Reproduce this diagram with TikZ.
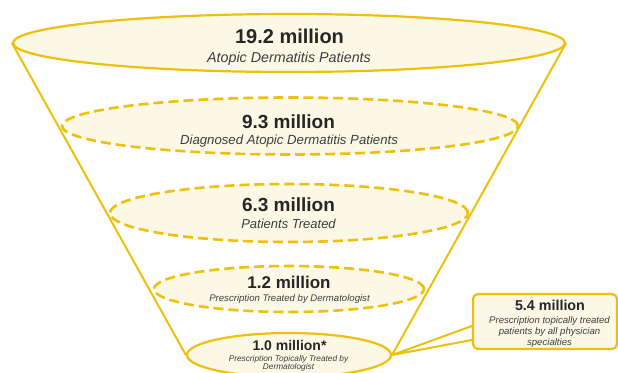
\documentclass[tikz,border=0pt]{standalone}
\usepackage{fontspec}
\setmainfont{Liberation Sans}
\usetikzlibrary{shapes.geometric,calc}
\definecolor{gold}{RGB}{238,192,10}
\definecolor{cream}{RGB}{251,248,230}
\definecolor{ink}{RGB}{38,38,38}
\definecolor{subink}{RGB}{62,62,62}
\tikzset{
  lvl/.style={ellipse, draw=gold, fill=cream, inner sep=0pt},
  solidlvl/.style={lvl, line width=2.2pt},
  dashlvl/.style={lvl, line width=2.6pt, dash pattern=on 10pt off 5pt},
  num/.style={anchor=base, text=ink, inner sep=0pt, font=\bfseries\fontsize{#1}{#1}\selectfont},
  desc/.style={anchor=base, text=subink, inner sep=0pt, font=\itshape\fontsize{#1}{#1}\selectfont},
  cone/.style={draw=gold, line width=2pt},
  callout/.style={draw=gold, fill=cream, line width=2.2pt, rounded corners=5pt, inner sep=0pt},
}
\begin{document}
\begin{tikzpicture}[x=1pt,y=-1pt]
\useasboundingbox (0,0) rectangle (618,372);
\fill[white] (0,0) rectangle (618,372);
\clip (0,0) rectangle (618,372);

% levels
\node[solidlvl, minimum width=552pt, minimum height=58pt] (l1) at (289,43) {};
\node[dashlvl, minimum width=456pt, minimum height=57pt] (l2) at (290,126) {};
\node[dashlvl, minimum width=358pt, minimum height=58pt] (l3) at (289,213) {};
\node[dashlvl, minimum width=270pt, minimum height=46pt] (l4) at (289,289) {};
\node[solidlvl, minimum width=204pt, minimum height=44pt] (l5) at (289,355) {};

% cone sides
\draw[cone] (l1.west) -- (l5.west);
\draw[cone] (l1.east) -- (l5.east);

% callout
\node[callout, minimum width=144pt, minimum height=55pt] (box) at (545,321.5) {};
\draw[cone, line join=round] ($(box.west)+(0,4.5)$) -- (l5.east) -- ($(box.west)+(0,18.5)$);

% texts
\node[num=20] (t1) at (289.5,43) {19.2 million};
\node[desc=14.3] (d1) at (289,62) {Atopic Dermatitis Patients};
\node[num=19] (t2) at (288.5,128) {9.3 million};
\node[desc=13.2] (d2) at (289,144) {Diagnosed Atopic Dermatitis Patients};
\node[num=19] (t3) at (288.5,211) {6.3 million};
\node[desc=13] (d3) at (288.5,228) {Patients Treated};
\node[num=17] (t4) at (289,288) {1.2 million};
\node[desc=9.6] (d4) at (289.5,301) {Prescription Treated by Dermatologist};
\node[num=14] (t5) at (289.5,350) {1.0 million*};
\node[desc=8.3] (d5a) at (288.5,361) {Prescription Topically Treated by};
\node[desc=8.3] (d5b) at (288.5,369.5) {Dermatologist};
\node[num=14.3] (tb) at (550,310) {5.4 million};
\node[desc=9.6] (db1) at (549.5,323) {Prescription topically treated};
\node[desc=9.6] (db2) at (549.5,334) {patients by all physician};
\node[desc=9.6] (db3) at (549.5,345) {specialties};
\end{tikzpicture}
\end{document}
